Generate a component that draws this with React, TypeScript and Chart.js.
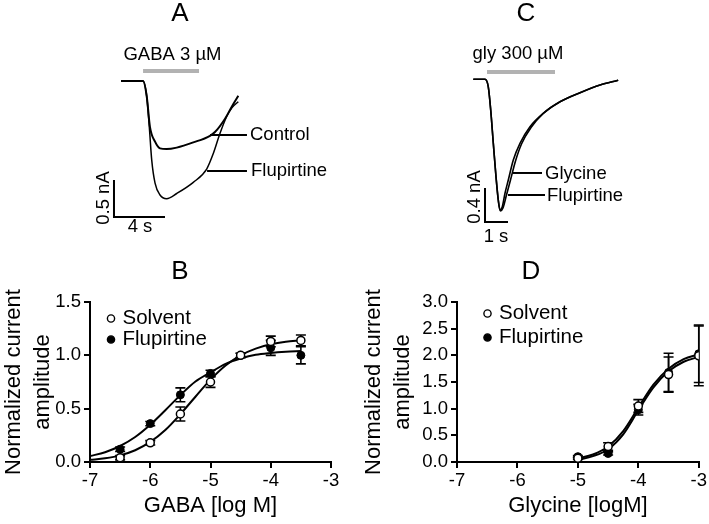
import React, { useEffect, useRef } from "react";
import { Chart, registerables } from "chart.js";

Chart.register(...registerables);

const FONT = "'Liberation Sans', Arial, Helvetica, sans-serif";

// ---------- Panel A: GABA 3 µM traces (time s, current nA) ----------
const gabaControlTime = [0, 1.73, 2.02, 2.27, 2.67, 3.06, 3.58, 4.37, 5.67, 6.98, 7.37, 8.16, 8.71, 9.2];
const gabaControlCurrent = [0, 0, -0.21, -0.62, -0.82, -0.91, -0.92, -0.9, -0.83, -0.74, -0.69, -0.51, -0.34, -0.2];
const gabaFlupTime = [0, 1.73, 2.02, 2.22, 2.41, 2.67, 3.06, 3.58, 4.37, 5.67, 6.72, 7.24, 7.76, 8.29, 8.71, 9.2];
const gabaFlupCurrent = [0, 0, -0.21, -0.62, -1.07, -1.38, -1.54, -1.59, -1.52, -1.37, -1.19, -0.98, -0.71, -0.48, -0.36, -0.28];
const gabaApplication = [1.73, 6.12];
const gabaApplicationLevel = 0.135;
const gabaScaleBar = { t: -0.55, i: -1.838, dt: 4, di: 0.5 };
const gabaControlPointer = { t: [6.98, 9.88], i: -0.73 };
const gabaFlupPointer = { t: [6.75, 9.88], i: -1.216 };

// ---------- Panel C: glycine 300 µM traces ----------
const glyTraceTime = [0, 0.51, 0.65, 0.757, 0.87, 0.987, 1.087, 1.161, 1.261, 1.378, 1.522, 1.739, 2.03, 2.465, 3.043, 3.77, 4.64, 5.51, 6.3];
const glyTraceCurrent = [0, 0, -0.087, -0.361, -0.753, -1.146, -1.42, -1.538, -1.499, -1.341, -1.185, -0.949, -0.753, -0.558, -0.4, -0.264, -0.158, -0.067, -0.01];
const glyFlupTime = [0, 0.51, 0.65, 0.757, 0.87, 0.987, 1.096, 1.183, 1.29, 1.443, 1.617, 1.835, 2.096, 2.509, 3.043, 3.77, 4.64, 5.51, 6.3];
const glyFlupCurrent = [0, 0, -0.087, -0.361, -0.753, -1.146, -1.446, -1.55, -1.514, -1.361, -1.185, -0.961, -0.761, -0.567, -0.4, -0.264, -0.158, -0.067, -0.01];
const glyApplication = [0.596, 3.552];
const glyApplicationLevel = 0.086;
const glyScaleBar = { t: 0.509, i: -1.679, dt: 1, di: 0.4 };
const glyPointer = { t: [1.726, 2.987], i: -1.102 };
const glyFlupPointer = { t: [1.509, 3.117], i: -1.361 };

// ---------- Panel B: GABA concentration-response ----------
const gabaLogConc = [-6.5, -6, -5.5, -5, -4.5, -4, -3.5];
const gabaSolvent = [0.04, 0.18, 0.45, 0.75, 1.0, 1.13, 1.14];
const gabaSolventErr = [0.02, 0.02, 0.065, 0.05, 0.02, 0.05, 0.05];
const gabaFlup = [0.12, 0.36, 0.63, 0.83, 1.0, 1.07, 1.0];
const gabaFlupErr = [0.02, 0.02, 0.065, 0.03, 0.02, 0.07, 0.08];
const gabaFitLogConc = [-7, -6.75, -6.5, -6.25, -6, -5.75, -5.5, -5.25, -5, -4.75, -4.5, -4.25, -4, -3.75, -3.5];
const gabaSolventFit = [0.02, 0.035, 0.062, 0.11, 0.188, 0.3, 0.448, 0.612, 0.772, 0.905, 1.0, 1.063, 1.103, 1.127, 1.14];
const gabaFlupFit = [0.055, 0.092, 0.15, 0.234, 0.349, 0.485, 0.627, 0.755, 0.84, 0.92, 0.97, 1.005, 1.022, 1.033, 1.04];

// ---------- Panel D: glycine concentration-response ----------
const glyLogConc = [-5, -4.5, -4, -3.5, -3];
const glySolvent = [0.07, 0.29, 1.05, 1.64, 1.99];
const glySolventErr = [0.02, 0.07, 0.12, 0.33, 0.56];
const glyFlup = [0.1, 0.16, 0.98, 1.68, 2.03];
const glyFlupErr = [0.02, 0.03, 0.1, 0.36, 0.54];
const glyFitLogConc = [-5, -4.75, -4.5, -4.25, -4, -3.75, -3.5, -3.25, -3];
const glySolventFit = [0.04, 0.11, 0.24, 0.52, 0.97, 1.4, 1.7, 1.88, 1.97];
const glyFlupFit = [0.07, 0.14, 0.29, 0.58, 1.02, 1.45, 1.75, 1.93, 2.02];

// ---------- tick labels ----------
const xTickLabels = ["-7", "-6", "-5", "-4", "-3"];
const gabaYTickLabels = ["0.0", "0.5", "1.0", "1.5"];
const glyYTickLabels = ["0.0", "0.5", "1.0", "1.5", "2.0", "2.5", "3.0"];

type TextItem = { text: string; x: number; y: number; size: number; align?: CanvasTextAlign; rotate?: number };
type Mark = { x: number; y: number; filled: boolean };

function xy(xs: number[], ys: number[]) {
  return xs.map((x, i) => ({ x, y: ys[i] }));
}

function pagePlugin(items: TextItem[], left: number, top: number, marks: Mark[] = []) {
  return {
    id: "pageText",
    afterDraw(chart: any) {
      const ctx = chart.ctx as CanvasRenderingContext2D;
      ctx.save();
      for (const m of marks) {
        ctx.beginPath();
        ctx.arc(m.x - left, m.y - top, 3.6, 0, Math.PI * 2);
        ctx.fillStyle = m.filled ? "#000" : "#fff";
        ctx.fill();
        ctx.lineWidth = 1.4;
        ctx.strokeStyle = "#000";
        ctx.stroke();
      }
      ctx.fillStyle = "#000";
      ctx.textBaseline = "middle";
      for (const it of items) {
        ctx.save();
        ctx.font = `${it.size}px ${FONT}`;
        ctx.textAlign = it.align || "center";
        ctx.translate(it.x - left, it.y - top);
        if (it.rotate) ctx.rotate(it.rotate);
        ctx.fillText(it.text, 0, 0);
        ctx.restore();
      }
      ctx.restore();
    },
  };
}

function errorBarPlugin(series: { xs: number[]; ys: number[]; errs: number[] }[]) {
  return {
    id: "errorBars",
    beforeDatasetsDraw(chart: any) {
      const { ctx, scales } = chart;
      const sx = scales.x;
      const sy = scales.y;
      ctx.save();
      ctx.strokeStyle = "#000";
      ctx.lineWidth = 1.6;
      for (const s of series) {
        s.xs.forEach((v, i) => {
          const px = sx.getPixelForValue(v);
          const pt = sy.getPixelForValue(s.ys[i] + s.errs[i]);
          const pb = sy.getPixelForValue(s.ys[i] - s.errs[i]);
          ctx.beginPath();
          ctx.moveTo(px, pt);
          ctx.lineTo(px, pb);
          ctx.moveTo(px - 5, pt);
          ctx.lineTo(px + 5, pt);
          ctx.moveTo(px - 5, pb);
          ctx.lineTo(px + 5, pb);
          ctx.stroke();
        });
      }
      ctx.restore();
    },
  };
}

function lineDs(data: any[], color = "#000", width = 1.5, smooth = false) {
  return {
    data,
    showLine: true,
    borderColor: color,
    borderWidth: width,
    pointRadius: 0,
    fill: false,
    tension: 0,
    cubicInterpolationMode: smooth ? "monotone" : "default",
    borderCapStyle: "butt",
  };
}

type Geo = { left: number; top: number; width: number; height: number; t0Px: number; pxPerS: number; i0Px: number; pxPerNA: number };

function traceConfig(geo: Geo, datasets: any[], texts: TextItem[]) {
  return {
    type: "scatter",
    data: { datasets },
    options: {
      responsive: false,
      animation: false,
      layout: { padding: 0 },
      plugins: { legend: { display: false }, tooltip: { enabled: false } },
      scales: {
        x: {
          type: "linear",
          display: false,
          min: (geo.left - geo.t0Px) / geo.pxPerS,
          max: (geo.left + geo.width - geo.t0Px) / geo.pxPerS,
        },
        y: {
          type: "linear",
          display: false,
          min: -(geo.top + geo.height - geo.i0Px) / geo.pxPerNA,
          max: (geo.i0Px - geo.top) / geo.pxPerNA,
        },
      },
    },
    plugins: [pagePlugin(texts, geo.left, geo.top)],
  };
}

function scaleBarData(b: { t: number; i: number; dt: number; di: number }) {
  return xy([b.t, b.t, b.t + b.dt], [b.i + b.di, b.i, b.i]);
}

const geoA: Geo = { left: 90, top: 0, width: 250, height: 250, t0Px: 121, pxPerS: 12.75, i0Px: 81, pxPerNA: 74 };
const geoC: Geo = { left: 450, top: 0, width: 220, height: 250, t0Px: 473.3, pxPerS: 23, i0Px: 79.3, pxPerNA: 85 };

function configA() {
  return traceConfig(
    geoA,
    [
      lineDs(xy(gabaControlTime, gabaControlCurrent), "#000", 2, true),
      lineDs(xy(gabaFlupTime, gabaFlupCurrent), "#000", 1.5, true),
      lineDs(xy(gabaApplication, [gabaApplicationLevel, gabaApplicationLevel]), "#b2b2b2", 4),
      lineDs(scaleBarData(gabaScaleBar), "#000", 2),
      lineDs(xy(gabaControlPointer.t, [gabaControlPointer.i, gabaControlPointer.i]), "#000", 2),
      lineDs(xy(gabaFlupPointer.t, [gabaFlupPointer.i, gabaFlupPointer.i]), "#000", 2),
    ],
    [
      { text: "A", x: 180, y: 14, size: 26 },
      { text: "GABA 3 µM", x: 172.5, y: 55, size: 18.5 },
      { text: "Control", x: 250, y: 135, size: 18.5, align: "left" },
      { text: "Flupirtine", x: 251, y: 171, size: 18.5, align: "left" },
      { text: "0.5 nA", x: 104, y: 198, size: 18.5, rotate: -Math.PI / 2 },
      { text: "4 s", x: 140, y: 227, size: 18.5 },
    ]
  );
}

function configC() {
  return traceConfig(
    geoC,
    [
      lineDs(xy(glyTraceTime, glyTraceCurrent), "#000", 1.6, true),
      lineDs(xy(glyFlupTime, glyFlupCurrent), "#000", 1.6, true),
      lineDs(xy(glyApplication, [glyApplicationLevel, glyApplicationLevel]), "#b2b2b2", 4),
      lineDs(scaleBarData(glyScaleBar), "#000", 2),
      lineDs(xy(glyPointer.t, [glyPointer.i, glyPointer.i]), "#000", 2),
      lineDs(xy(glyFlupPointer.t, [glyFlupPointer.i, glyFlupPointer.i]), "#000", 2),
    ],
    [
      { text: "C", x: 526, y: 14, size: 26 },
      { text: "gly 300 µM", x: 518, y: 54, size: 18.5 },
      { text: "Glycine", x: 545, y: 173.5, size: 18.5, align: "left" },
      { text: "Flupirtine", x: 547, y: 195.5, size: 18.5, align: "left" },
      { text: "0.4 nA", x: 475, y: 197, size: 18.5, rotate: -Math.PI / 2 },
      { text: "1 s", x: 496, y: 237, size: 18.5 },
    ]
  );
}

type DoseOpts = {
  left: number;
  top: number;
  yAxisWidth: number;
  padRight: number;
  xs: number[];
  solvent: number[];
  solventErr: number[];
  flup: number[];
  flupErr: number[];
  fitX: number[];
  solventFit: number[];
  flupFit: number[];
  yMax: number;
  yLabels: string[];
  xTitle: string;
  texts: TextItem[];
  marks: Mark[];
};

function doseConfig(o: DoseOpts) {
  const axisCommon = {
    type: "linear",
    border: { display: true, color: "#000", width: 2 },
    grid: { drawOnChartArea: false, drawTicks: true, tickLength: 6, color: "#000", lineWidth: 2 },
  };
  return {
    type: "scatter",
    data: {
      datasets: [
        {
          label: "Solvent",
          data: xy(o.xs, o.solvent),
          pointRadius: 4,
          pointBackgroundColor: "#fff",
          pointBorderColor: "#000",
          pointBorderWidth: 1.5,
          showLine: false,
          order: 0,
        },
        {
          label: "Flupirtine",
          data: xy(o.xs, o.flup),
          pointRadius: 4,
          pointBackgroundColor: "#000",
          pointBorderColor: "#000",
          pointBorderWidth: 1,
          showLine: false,
          order: 1,
        },
        { ...lineDs(xy(o.fitX, o.solventFit), "#000", 2, true), order: 2 },
        { ...lineDs(xy(o.fitX, o.flupFit), "#000", 2, true), order: 3 },
      ],
    },
    options: {
      responsive: false,
      animation: false,
      layout: { padding: { top: 47, right: o.padRight, left: 0, bottom: 0 } },
      plugins: { legend: { display: false }, tooltip: { enabled: false } },
      scales: {
        x: {
          ...axisCommon,
          min: -7,
          max: -3,
          afterFit: (s: any) => {
            s.height = 62;
          },
          ticks: {
            stepSize: 1,
            autoSkip: false,
            maxRotation: 0,
            color: "#000",
            padding: 2,
            font: { family: FONT, size: 18.5 },
            callback: (_v: any, i: number) => xTickLabels[i],
          },
          title: {
            display: true,
            text: o.xTitle,
            color: "#000",
            font: { family: FONT, size: 22 },
            padding: { top: 0, bottom: 5 },
          },
        },
        y: {
          ...axisCommon,
          min: 0,
          max: o.yMax,
          afterFit: (s: any) => {
            s.width = o.yAxisWidth;
          },
          ticks: {
            stepSize: 0.5,
            autoSkip: false,
            color: "#000",
            padding: 3,
            font: { family: FONT, size: 18.5 },
            callback: (_v: any, i: number) => o.yLabels[i],
          },
          title: {
            display: true,
            text: ["Normalized current", "amplitude"],
            color: "#000",
            font: { family: FONT, size: 22, lineHeight: 1.3 },
            padding: { top: 0, bottom: 0 },
          },
        },
      },
    },
    plugins: [
      errorBarPlugin([
        { xs: o.xs, ys: o.solvent, errs: o.solventErr },
        { xs: o.xs, ys: o.flup, errs: o.flupErr },
      ]),
      pagePlugin(o.texts, o.left, o.top, o.marks),
    ],
  };
}

function configB() {
  return doseConfig({
    left: 0,
    top: 255,
    yAxisWidth: 90,
    padRight: 24,
    xs: gabaLogConc,
    solvent: gabaSolvent,
    solventErr: gabaSolventErr,
    flup: gabaFlup,
    flupErr: gabaFlupErr,
    fitX: gabaFitLogConc,
    solventFit: gabaSolventFit,
    flupFit: gabaFlupFit,
    yMax: 1.5,
    yLabels: gabaYTickLabels,
    xTitle: "GABA [log M]",
    texts: [
      { text: "B", x: 180, y: 272, size: 26 },
      { text: "Solvent", x: 122.5, y: 318.5, size: 20.5, align: "left" },
      { text: "Flupirtine", x: 122.5, y: 339.5, size: 20.5, align: "left" },
    ],
    marks: [
      { x: 111, y: 318.5, filled: false },
      { x: 111, y: 339.5, filled: true },
    ],
  });
}

function configD() {
  return doseConfig({
    left: 360,
    top: 255,
    yAxisWidth: 97,
    padRight: 10,
    xs: glyLogConc,
    solvent: glySolvent,
    solventErr: glySolventErr,
    flup: glyFlup,
    flupErr: glyFlupErr,
    fitX: glyFitLogConc,
    solventFit: glySolventFit,
    flupFit: glyFlupFit,
    yMax: 3,
    yLabels: glyYTickLabels,
    xTitle: "Glycine [logM]",
    texts: [
      { text: "D", x: 531, y: 272, size: 26 },
      { text: "Solvent", x: 499, y: 313.5, size: 20.5, align: "left" },
      { text: "Flupirtine", x: 499, y: 337.5, size: 20.5, align: "left" },
    ],
    marks: [
      { x: 487.5, y: 313.5, filled: false },
      { x: 487.5, y: 337.5, filled: true },
    ],
  });
}

function ChartCanvas(props: { left: number; top: number; width: number; height: number; build: () => any }) {
  const ref = useRef<HTMLCanvasElement>(null);
  useEffect(() => {
    const chart = new Chart(ref.current as HTMLCanvasElement, props.build());
    return () => chart.destroy();
  }, []);
  return (
    <canvas
      ref={ref}
      width={props.width}
      height={props.height}
      style={{ position: "absolute", left: props.left, top: props.top, width: props.width, height: props.height }}
    />
  );
}

export default function App() {
  return (
    <div style={{ position: "absolute", left: 0, top: 0, width: 709, height: 524, background: "#fff", overflow: "hidden" }}>
      <ChartCanvas left={geoA.left} top={geoA.top} width={geoA.width} height={geoA.height} build={configA} />
      <ChartCanvas left={geoC.left} top={geoC.top} width={geoC.width} height={geoC.height} build={configC} />
      <ChartCanvas left={0} top={255} width={355} height={269} build={configB} />
      <ChartCanvas left={360} top={255} width={349} height={269} build={configD} />
    </div>
  );
}
